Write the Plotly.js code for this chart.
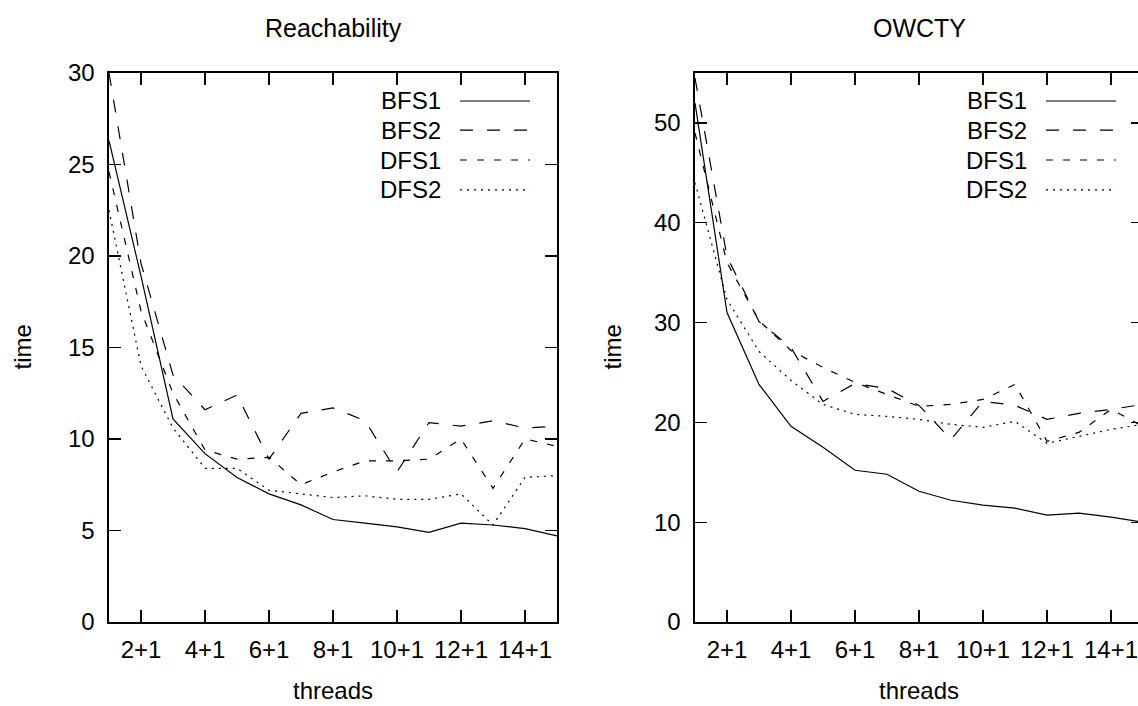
<!DOCTYPE html>
<html>
<head>
<meta charset="utf-8">
<script src="https://cdn.plot.ly/plotly-3.0.1.min.js"></script>
<style>
html, body { margin: 0; padding: 0; overflow: hidden; background: #fff; }
#chart { width: 1150px; height: 706px; }
</style>
</head>
<body>
<div id="chart"></div>
<script>
// thread counts (x = n means "n+1")
const threads = [1,2,3,4,5,6,7,8,9,10,11,12,13,14,15];
const tickValues = [2,4,6,8,10,12,14];
const tickLabels = ["2+1","4+1","6+1","8+1","10+1","12+1","14+1"];
const seriesNames = ["BFS1","BFS2","DFS1","DFS2"];

// Reachability times
const reachBFS1 = [26.3,18.9,11.1,9.2,7.9,7.0,6.4,5.6,5.4,5.2,4.9,5.4,5.3,5.1,4.7];
const reachBFS2 = [30.0,19.6,13.5,11.6,12.4,8.9,11.4,11.7,11.0,8.2,10.9,10.7,11.0,10.6,10.7];
const reachDFS1 = [24.6,17.0,12.5,9.4,8.9,9.0,7.5,8.2,8.8,8.8,8.9,10.0,7.3,10.0,9.6];
const reachDFS2 = [22.5,14.0,10.6,8.4,8.4,7.2,7.0,6.8,6.9,6.7,6.7,7.0,5.3,7.9,8.0];

// OWCTY times
const owctyBFS1 = [52.0,31.0,23.8,19.6,17.5,15.2,14.8,13.1,12.2,11.7,11.4,10.7,10.9,10.5,10.0];
const owctyBFS2 = [54.5,36.6,30.1,27.5,22.1,23.9,23.4,21.7,18.3,22.1,21.7,20.3,20.9,21.3,21.8];
const owctyDFS1 = [49.0,36.0,30.2,27.2,25.5,24.0,22.8,21.6,21.8,22.3,23.8,18.1,19.0,21.3,19.6];
const owctyDFS2 = [44.0,32.3,27.1,24.2,21.8,20.8,20.6,20.3,19.8,19.5,20.1,17.9,18.6,19.3,19.8];

const dashes = ["solid", "13px,14px", "7px,10px", "2px,5px"];
const FONT = "Liberation Sans, Arial, sans-serif";
const FS = 24;
const W = 1150, H = 706;

function mk(y, i, xa, ya) {
  return {x: threads, y: y, type: "scatter", mode: "lines", name: seriesNames[i],
    xaxis: xa, yaxis: ya, showlegend: false,
    line: {color: "#000", width: 1.2, dash: dashes[i]}};
}

const data = [
  mk(reachBFS1,0,"x","y"), mk(reachBFS2,1,"x","y"), mk(reachDFS1,2,"x","y"), mk(reachDFS2,3,"x","y"),
  mk(owctyBFS1,0,"x2","y2"), mk(owctyBFS2,1,"x2","y2"), mk(owctyDFS1,2,"x2","y2"), mk(owctyDFS2,3,"x2","y2")
];

const plotTop = 73, plotBot = 622;
const yDom = [(H - plotBot)/H, (H - plotTop)/H];
const xDom1 = [109/W, 557/W];
const xDom2 = [695/W, 1143/W];

function xax(dom, anchor) {
  return {domain: dom, anchor: anchor, range: [1,15], tickmode: "array",
    tickvals: tickValues, ticktext: tickLabels, ticks: "inside", ticklen: 12,
    tickcolor: "#000", tickwidth: 1.2, showline: true, linecolor: "#000", linewidth: 1.6,
    mirror: "ticks", showgrid: false, zeroline: false, ticklabelstandoff: 6,
    tickfont: {family: FONT, size: FS, color: "#000"}};
}
function yax(dom, anchor, max, dt) {
  return {domain: dom, anchor: anchor, range: [0,max], dtick: dt, tick0: 0,
    ticks: "inside", ticklen: 12, tickcolor: "#000", tickwidth: 1.2,
    showline: true, linecolor: "#000", linewidth: 1.6, mirror: "ticks",
    showgrid: false, zeroline: false, ticklabelstandoff: 8,
    tickfont: {family: FONT, size: FS, color: "#000"}};
}

const annotations = [];
const shapes = [];
const legRows = [0.949, 0.896, 0.8415, 0.787];
[["x","y"],["x2","y2"]].forEach(([xa, ya]) => {
  seriesNames.forEach((nm, i) => {
    annotations.push({xref: xa + " domain", yref: ya + " domain", x: 0.7455, y: legRows[i],
      xanchor: "right", yanchor: "middle", text: nm, showarrow: false,
      font: {family: FONT, size: FS, color: "#000"}});
    shapes.push({type: "line", xref: xa + " domain", yref: ya + " domain",
      x0: 0.7835, x1: 0.940, y0: legRows[i], y1: legRows[i],
      line: {color: "#000", width: 1.2, dash: dashes[i]}});
  });
  annotations.push({xref: xa + " domain", yref: "paper", x: 0.5, y: 1 - 28/H,
    xanchor: "center", yanchor: "middle", text: xa === "x" ? "Reachability" : "OWCTY",
    showarrow: false, font: {family: FONT, size: 25, color: "#000"}});
  annotations.push({xref: xa + " domain", yref: "paper", x: 0.5, y: 1 - 690/H,
    xanchor: "center", yanchor: "middle", text: "threads",
    showarrow: false, font: {family: FONT, size: FS, color: "#000"}});
});
annotations.push({xref: "paper", yref: "y domain", x: 22/W, y: 0.5, textangle: -90,
  xanchor: "center", yanchor: "middle", text: "time", showarrow: false,
  font: {family: FONT, size: FS, color: "#000"}});
annotations.push({xref: "paper", yref: "y2 domain", x: 612/W, y: 0.5, textangle: -90,
  xanchor: "center", yanchor: "middle", text: "time", showarrow: false,
  font: {family: FONT, size: FS, color: "#000"}});

const layout = {
  width: W, height: H, margin: {l: 0, r: 0, t: 0, b: 0},
  paper_bgcolor: "#fff", plot_bgcolor: "#fff", showlegend: false,
  xaxis: xax(xDom1, "y"), yaxis: yax(yDom, "x", 30, 5),
  xaxis2: xax(xDom2, "y2"), yaxis2: yax(yDom, "x2", 55, 10),
  annotations: annotations, shapes: shapes
};

Plotly.newPlot("chart", data, layout, {staticPlot: true, displayModeBar: false});
</script>
</body>
</html>
